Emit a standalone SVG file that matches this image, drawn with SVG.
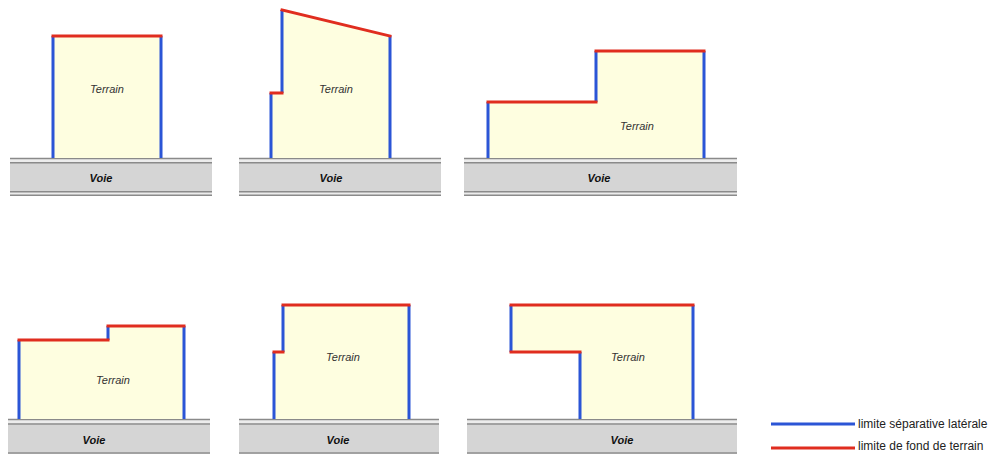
<svg xmlns="http://www.w3.org/2000/svg" width="995" height="454" viewBox="0 0 995 454">
<style>
.fill{fill:#fefee0;stroke:none}
.lat{fill:none;stroke:#2b55d6;stroke-width:3;stroke-linecap:butt}
.fond{fill:none;stroke:#e02d1f;stroke-width:3;stroke-linecap:square}
.road{fill:#d5d5d5}
.gap{fill:#ececec}
.rl{stroke:#8a8a8a;stroke-width:1.6}
.t{font-family:"Liberation Sans",Arial,sans-serif;font-style:italic;font-size:11px;fill:#333;text-anchor:middle}
.v{font-family:"Liberation Sans",Arial,sans-serif;font-style:italic;font-weight:bold;font-size:11px;fill:#111;text-anchor:middle}
.lg{font-family:"Liberation Sans",Arial,sans-serif;font-size:12px;fill:#222}
</style>

<!-- Panel 1 -->
<g id="panel1">
  <rect class="gap" x="10" y="158" width="202" height="38"/>
  <rect class="road" x="10" y="163" width="202" height="28.5"/>
  <line class="rl" x1="10" y1="158.5" x2="212" y2="158.5"/>
  <line class="rl" x1="10" y1="162.8" x2="212" y2="162.8"/>
  <line class="rl" x1="10" y1="191.8" x2="212" y2="191.8"/>
  <line class="rl" x1="10" y1="195.3" x2="212" y2="195.3"/>
  <text class="v" x="101" y="182">Voie</text>
  <rect class="fill" x="53" y="36" width="108" height="122"/>
  <path class="lat" d="M53,158 V36 M161,36 V158"/>
  <path class="fond" d="M53,36 H161"/>
  <text class="t" x="107" y="93">Terrain</text>
</g>

<!-- Panel 2 -->
<g id="panel2">
  <rect class="gap" x="239" y="158" width="202" height="38"/>
  <rect class="road" x="239" y="163" width="202" height="28.5"/>
  <line class="rl" x1="239" y1="158.5" x2="441" y2="158.5"/>
  <line class="rl" x1="239" y1="162.8" x2="441" y2="162.8"/>
  <line class="rl" x1="239" y1="191.8" x2="441" y2="191.8"/>
  <line class="rl" x1="239" y1="195.3" x2="441" y2="195.3"/>
  <text class="v" x="331" y="182">Voie</text>
  <polygon class="fill" points="271,158 271,93 282,93 282,10 390,36 390,158"/>
  <path class="lat" d="M271,158 V93 M282,93 V10 M390,36 V158"/>
  <path class="fond" d="M271,93 H282 M282,10 L390,36"/>
  <text class="t" x="336" y="93">Terrain</text>
</g>

<!-- Panel 3 -->
<g id="panel3">
  <rect class="gap" x="464" y="158" width="273" height="38"/>
  <rect class="road" x="464" y="163" width="273" height="28.5"/>
  <line class="rl" x1="464" y1="158.5" x2="737" y2="158.5"/>
  <line class="rl" x1="464" y1="162.8" x2="737" y2="162.8"/>
  <line class="rl" x1="464" y1="191.8" x2="737" y2="191.8"/>
  <line class="rl" x1="464" y1="195.3" x2="737" y2="195.3"/>
  <text class="v" x="599" y="182">Voie</text>
  <polygon class="fill" points="488,158 488,102 596,102 596,51 704,51 704,158"/>
  <path class="lat" d="M488,158 V102 M596,102 V51 M704,51 V158"/>
  <path class="fond" d="M488,102 H596 M596,51 H704"/>
  <text class="t" x="637" y="130">Terrain</text>
</g>

<!-- Panel 4 -->
<g id="panel4">
  <rect class="gap" x="8" y="419" width="202" height="35"/>
  <rect class="road" x="8" y="424.5" width="202" height="28"/>
  <line class="rl" x1="8" y1="419.5" x2="210" y2="419.5"/>
  <line class="rl" x1="8" y1="424" x2="210" y2="424"/>
  <line class="rl" x1="8" y1="453" x2="210" y2="453"/>
  <text class="v" x="94" y="444">Voie</text>
  <polygon class="fill" points="19,419 19,340 108,340 108,326 184,326 184,419"/>
  <path class="lat" d="M19,419 V340 M108,340 V326 M184,326 V419"/>
  <path class="fond" d="M19,340 H108 M108,326 H184"/>
  <text class="t" x="113" y="384">Terrain</text>
</g>

<!-- Panel 5 -->
<g id="panel5">
  <rect class="gap" x="239" y="419" width="200" height="35"/>
  <rect class="road" x="239" y="424.5" width="200" height="28"/>
  <line class="rl" x1="239" y1="419.5" x2="439" y2="419.5"/>
  <line class="rl" x1="239" y1="424" x2="439" y2="424"/>
  <line class="rl" x1="239" y1="453" x2="439" y2="453"/>
  <text class="v" x="338" y="444">Voie</text>
  <polygon class="fill" points="274,419 274,352 283,352 283,305 409,305 409,419"/>
  <path class="lat" d="M274,419 V352 M283,352 V305 M409,305 V419"/>
  <path class="fond" d="M274,352 H283 M283,305 H409"/>
  <text class="t" x="343" y="361">Terrain</text>
</g>

<!-- Panel 6 -->
<g id="panel6">
  <rect class="gap" x="467" y="419" width="270" height="35"/>
  <rect class="road" x="467" y="424.5" width="270" height="28"/>
  <line class="rl" x1="467" y1="419.5" x2="737" y2="419.5"/>
  <line class="rl" x1="467" y1="424" x2="737" y2="424"/>
  <line class="rl" x1="467" y1="453" x2="737" y2="453"/>
  <text class="v" x="622" y="444">Voie</text>
  <polygon class="fill" points="511,305 693,305 693,419 580,419 580,352 511,352"/>
  <path class="lat" d="M511,305 V352 M580,352 V419 M693,305 V419"/>
  <path class="fond" d="M511,305 H693 M511,352 H580"/>
  <text class="t" x="628" y="361">Terrain</text>
</g>

<!-- Legend -->
<g id="legend">
  <line x1="771" y1="424" x2="855" y2="424" stroke="#2b55d6" stroke-width="3"/>
  <text class="lg" x="858" y="428">limite séparative latérale</text>
  <line x1="771" y1="448" x2="855" y2="448" stroke="#e02d1f" stroke-width="3"/>
  <text class="lg" x="858" y="450">limite de fond de terrain</text>
</g>
</svg>
